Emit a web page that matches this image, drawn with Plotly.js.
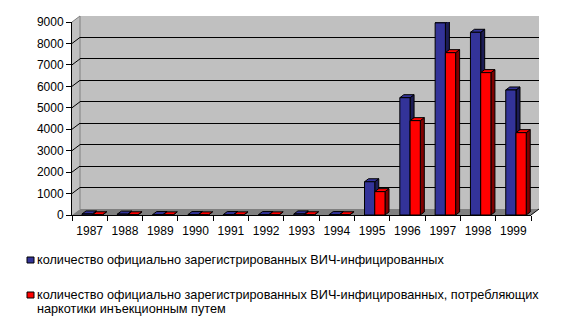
<!DOCTYPE html>
<html>
<head>
<meta charset="utf-8">
<script src="https://cdn.plot.ly/plotly-3.0.1.min.js"></script>
<style>html,body{margin:0;padding:0;background:#fff;}#chart{width:565px;height:326px;}</style>
</head>
<body>
<div id="chart"></div>
<script>
// ---- data ----
var years = ['1987','1988','1989','1990','1991','1992','1993','1994','1995','1996','1997','1998','1999'];
var totalHIV = [50, 40, 20, 20, 20, 20, 50, 20, 1550, 5470, 8960, 8520, 5830];
var idusHIV  = [10, 10, 5, 5, 5, 5, 10, 10, 1090, 4400, 7570, 6640, 3840];
var seriesNames = [
  'количество официально зарегистрированных ВИЧ-инфицированных',
  'количество официально зарегистрированных ВИЧ-инфицированных, потребляющих<br>наркотики инъекционным путем'
];
var yTicks = [0,1000,2000,3000,4000,5000,6000,7000,8000,9000];

// ---- geometry / style ----
var W = 565, H = 326;
var FX0 = 72, FX1 = 531, FY0 = 215, FY1 = 22;   // front plane (px)
var DX = 8, DY = 6;                               // depth of wall
var YMAX = 9000;
var font = 'Arial, "Liberation Sans", sans-serif';
var blue = '#333399', blueSide = '#1c1c55', red = '#ff0000', redSide = '#800000';
var BW = 0.29, offBlue = -0.215, offRed = 0.075;
var n = years.length;
var catPx = (FX1 - FX0) / n;
var bdx = 4 / catPx, bdy = 3 * YMAX / (FY0 - FY1);

function px(x){return x / W;}
function py(y){return 1 - y / H;}
function fy(v){return FY0 - v / YMAX * (FY0 - FY1);}

var xs = years.map(function(_, i){return i;});

var traces = [
  {type:'scatter', x:[], y:[], xaxis:'x', yaxis:'y', showlegend:false, hoverinfo:'skip'},
  {type:'bar', x:xs, y:totalHIV, name:seriesNames[0], xaxis:'x2', yaxis:'y2',
   width:BW, offset:offBlue, marker:{color:blue, line:{color:'#000', width:1}}, showlegend:false},
  {type:'bar', x:xs, y:idusHIV, name:seriesNames[1].replace('<br>', ' '), xaxis:'x2', yaxis:'y2',
   width:BW, offset:offRed, marker:{color:red, line:{color:'#000', width:1}}, showlegend:false}
];

var shapes = [];
// side wall
shapes.push({type:'path', xref:'paper', yref:'paper', layer:'below',
  path:'M'+px(FX0)+','+py(FY1)+' L'+px(FX0+DX)+','+py(FY1-DY)+' L'+px(FX0+DX)+','+py(FY0-DY)+' L'+px(FX0)+','+py(FY0)+' Z',
  fillcolor:'#c0c0c0', line:{width:0}});
// back wall
shapes.push({type:'rect', xref:'paper', yref:'paper', layer:'below',
  x0:px(FX0+DX), x1:px(FX1+DX), y0:py(FY0-DY), y1:py(FY1-DY), fillcolor:'#c0c0c0', line:{width:0}});
// corner line
shapes.push({type:'line', xref:'paper', yref:'paper', layer:'below',
  x0:px(FX0+DX), x1:px(FX0+DX), y0:py(FY0-DY), y1:py(FY1-DY), line:{color:'#808080', width:1}});
// floor
shapes.push({type:'path', xref:'paper', yref:'paper', layer:'below',
  path:'M'+px(FX0)+','+py(FY0)+' L'+px(FX1)+','+py(FY0)+' L'+px(FX1+DX)+','+py(FY0-DY)+' L'+px(FX0+DX)+','+py(FY0-DY)+' Z',
  fillcolor:'#808080', line:{width:0}});
// floor right edge
shapes.push({type:'line', xref:'paper', yref:'paper', layer:'below',
  x0:px(FX1), x1:px(FX1+DX), y0:py(FY0), y1:py(FY0-DY), line:{color:'#000', width:1}});
// side-wall grid diagonals
yTicks.forEach(function(v){
  if (v === 0) return;
  shapes.push({type:'line', xref:'paper', yref:'paper', layer:'below',
    x0:px(FX0), x1:px(FX0+DX), y0:py(fy(v)), y1:py(fy(v)-DY),
    line:{color: v === YMAX ? '#808080' : '#000', width:1}});
});
// 3D faces of bars
function faces(vals, off, front, side){
  vals.forEach(function(v, i){
    var xl = i + off, xr = i + off + BW;
    shapes.push({type:'path', xref:'x2', yref:'y2', layer:'between',
      path:'M'+xr+',0 L'+(xr+bdx)+','+bdy+' L'+(xr+bdx)+','+(v+bdy)+' L'+xr+','+v+' Z',
      fillcolor:side, line:{color:'#000', width:1}});
    shapes.push({type:'path', xref:'x2', yref:'y2', layer:'between',
      path:'M'+xl+','+v+' L'+xr+','+v+' L'+(xr+bdx)+','+(v+bdy)+' L'+(xl+bdx)+','+(v+bdy)+' Z',
      fillcolor:front, line:{color:'#000', width:1}});
  });
}
faces(totalHIV, offBlue, blue, blueSide);
faces(idusHIV, offRed, red, redSide);

// legend (manual)
var legY = [260, 295];
var legCol = [blue, red];
var LINE = 14;
var annotations = [];
legY.forEach(function(y, k){
  shapes.push({type:'rect', xref:'paper', yref:'paper', layer:'above',
    x0:px(27), x1:px(34), y0:py(y-3), y1:py(y+3), fillcolor:legCol[k], line:{color:'#000', width:1}});
  seriesNames[k].split('<br>').forEach(function(t, j){
    annotations.push({xref:'paper', yref:'paper', x:px(35), y:py(y + j*LINE), xanchor:'left', yanchor:'middle',
      align:'left', showarrow:false, text:t, font:{family:font, size:12.7, color:'#000'}});
  });
});

var minorVals = [];
for (var i = 0; i <= n; i++) minorVals.push(i - 0.5);

var layout = {
  width:W, height:H, margin:{l:0, r:0, t:0, b:0},
  paper_bgcolor:'#fff', plot_bgcolor:'rgba(0,0,0,0)',
  showlegend:false, barmode:'overlay',
  font:{family:font, size:12, color:'#000'},
  xaxis:{domain:[px(FX0+DX), px(FX1+DX)], range:[-0.5, n-0.5], visible:false, anchor:'y'},
  yaxis:{domain:[py(FY0-DY), py(FY1-DY)], range:[0, YMAX], anchor:'x',
    tickmode:'array', tickvals:yTicks.slice(1, -1), showgrid:true, gridcolor:'#000', gridwidth:1,
    showticklabels:false, ticks:'', showline:false, zeroline:false},
  xaxis2:{domain:[px(FX0), px(FX1)], range:[-0.5, n-0.5], anchor:'y2',
    tickmode:'array', tickvals:xs, ticktext:years, ticks:'outside', ticklen:5, tickcolor:'rgba(0,0,0,0)',
    minor:{tickmode:'array', tickvals:minorVals, ticks:'outside', ticklen:5, tickcolor:'#000', showgrid:false},
    showline:true, linecolor:'#000', linewidth:1, showgrid:false, zeroline:false,
    tickfont:{family:font, size:12, color:'#000'}},
  yaxis2:{domain:[py(FY0), py(FY1)], range:[0, YMAX], anchor:'x2',
    tickmode:'array', tickvals:yTicks, ticks:'outside', ticklen:5, tickcolor:'#000',
    showline:true, linecolor:'#000', linewidth:1, showgrid:false, zeroline:false,
    tickfont:{family:font, size:12, color:'#000'}},
  shapes:shapes, annotations:annotations
};

Plotly.newPlot('chart', traces, layout, {staticPlot:true, displayModeBar:false});
</script>
</body>
</html>
